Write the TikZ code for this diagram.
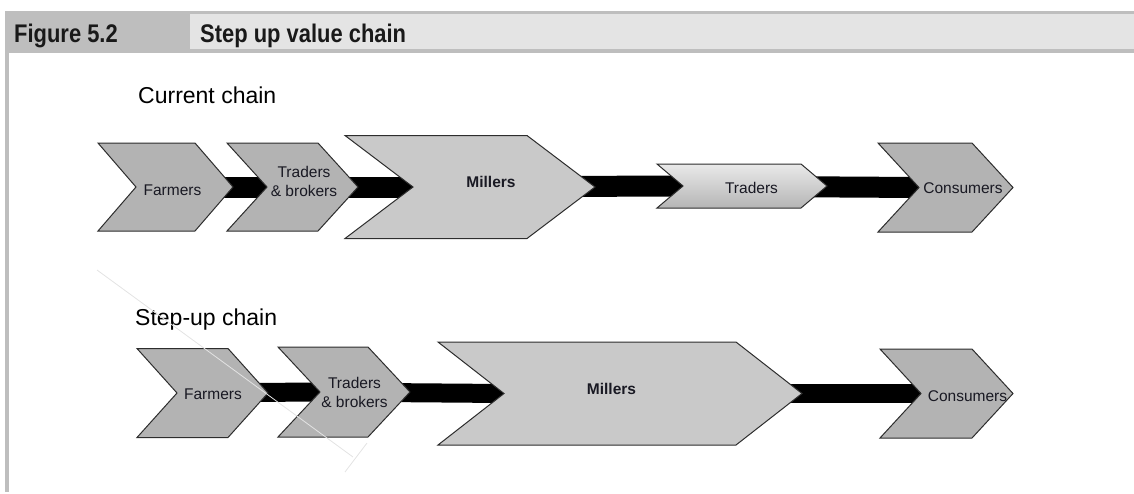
\documentclass[tikz,border=0pt]{standalone}
\usepackage{fontspec}
\setmainfont{Liberation Sans}
\newfontfamily\hdrfont[FakeStretch=0.86]{Liberation Sans}
\usetikzlibrary{positioning, backgrounds, calc}
\usepackage{xcolor}
\definecolor{chevdark}{RGB}{179,179,179}
\definecolor{chevlight}{RGB}{201,201,201}
\definecolor{chevedge}{RGB}{45,45,45}
\definecolor{hdrdark}{RGB}{190,190,190}
\definecolor{hdrlight}{RGB}{228,228,228}
\definecolor{lbltext}{RGB}{25,25,35}
\tikzset{
  dbox/.style={draw=chevedge, fill=chevdark, line width=1pt},
  mbox/.style={draw=chevedge, fill=chevlight, line width=1pt},
  gbox/.style={draw=chevedge, top color=hdrlight!80!white, bottom color=chevlight!90!black, line width=1pt},
  lbl/.style={font=\fontsize{15.5}{19}\selectfont, text=lbltext, inner sep=0pt, align=center},
  mlbl/.style={lbl, font=\fontsize{15.5}{19}\selectfont\bfseries},
  ttl/.style={font=\fontsize{23}{26}\selectfont, inner sep=0pt, anchor=base west},
  hdr/.style={font=\hdrfont\fontsize{25.5}{28}\selectfont\bfseries, text=black!90, inner sep=0pt, anchor=base west},
  bar/.style={line width=21pt, black},
  sbar/.style={line width=19pt, black},
  faint/.style={draw=gray!22, line width=0.8pt},
}
% chevron: name, left x, centre y, width, half height, point depth, style
\newcommand{\chevshape}[7]{%
  \coordinate (#1-notch) at ({#2+#6},#3);
  \coordinate (#1-tip) at ({#2+#4},#3);
  \draw[#7] (#2,{#3-#5}) -- ({#2+#4-#6},{#3-#5}) -- (#1-tip)
    -- ({#2+#4-#6},{#3+#5}) -- (#2,{#3+#5}) -- (#1-notch) -- cycle;
}

\begin{document}
\begin{tikzpicture}[x=1pt, y=-1pt]
  \useasboundingbox (0,0) rectangle (1134,493);
  % header
  \fill[hdrdark] (5,11) rectangle (1134,53);
  \fill[hdrlight] (190,14) rectangle (1134,49);
  \fill[hdrdark] (5,53) rectangle (9,492);
  \node[hdr] (fig) at (14,42) {Figure 5.2};
  \node[hdr] (cap) at (200,42) {Step up value chain};

  % current chain
  \node[ttl] (cur) at (138,103) {Current chain};
  \chevshape{farm}{98}{187}{135}{44}{38}{dbox}
  \chevshape{trb}{227}{187}{131}{44}{40}{dbox}
  \chevshape{mill}{345}{187}{250}{51.5}{68}{mbox}
  \chevshape{trad}{657}{186}{170}{22}{26}{gbox}
  \chevshape{cons}{878}{187.5}{135}{44.5}{41}{dbox}
  \node[lbl, anchor=base] (farm-t) at (172.5,195) {Farmers};
  \node[lbl] (trb-t) at (304,181) {Traders\\\& brokers};
  \node[mlbl, anchor=base] (mill-t) at (491,187) {Millers};
  \node[lbl, anchor=base] (trad-t) at (751.5,193) {Traders};
  \node[lbl, anchor=base] (cons-t) at (963,193.5) {Consumers};
  \begin{scope}[on background layer]
    \draw[bar] (farm-notch) -- (trb-notch);
    \draw[bar] (trb-notch) -- (mill-notch);
    \draw[bar] (mill-notch) -- (trad-notch);
    \draw[bar] (trad-notch) -- (cons-notch);
  \end{scope}

  % step-up chain
  \node[ttl] (stp) at (135,325) {Step-up chain};
  \chevshape{farm2}{137}{393}{131}{44.5}{40}{dbox}
  \chevshape{trb2}{278}{392}{132}{45}{42}{dbox}
  \chevshape{mill2}{438}{393.5}{364}{51.5}{66}{mbox}
  \chevshape{cons2}{880}{393.5}{133}{44.5}{41}{dbox}
  \node[lbl, anchor=base] (farm2-t) at (213,399) {Farmers};
  \node[lbl] (trb2-t) at (354.5,392) {Traders\\\& brokers};
  \node[mlbl, anchor=base] (mill2-t) at (611.5,394) {Millers};
  \node[lbl, anchor=base] (cons2-t) at (967.5,401) {Consumers};
  \begin{scope}[on background layer]
    \draw[sbar] (farm2-notch) -- (trb2-notch);
    \draw[sbar] (trb2-notch) -- (mill2-notch);
    \draw[sbar] (mill2-notch) -- (cons2-notch);
  \end{scope}

  % stray guide lines
  \draw[faint] (97,270) -- (353,457);
  \draw[faint] (367,443) -- (345,472);
\end{tikzpicture}
\end{document}
